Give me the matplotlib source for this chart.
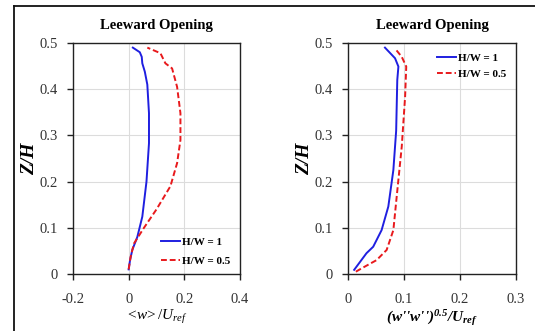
import matplotlib
matplotlib.use("Agg")
import matplotlib.pyplot as plt
from matplotlib.lines import Line2D

plt.rcParams['font.family'] = ['Liberation Serif', 'DejaVu Serif']
plt.rcParams['mathtext.fontset'] = 'custom'
plt.rcParams['mathtext.rm'] = 'Liberation Serif'
plt.rcParams['mathtext.it'] = 'Liberation Serif:italic'
plt.rcParams['mathtext.bf'] = 'Liberation Serif:bold'
plt.rcParams['mathtext.bfit'] = 'Liberation Serif:bold:italic'

# Left panel: <w>/Uref
w1_x = [0.0, 0.005, 0.013, 0.031, 0.049, 0.064, 0.073, 0.073, 0.067, 0.058, 0.049, 0.047, 0.040, 0.015]
w1_z = [0.01, 0.03, 0.052, 0.08, 0.124, 0.20, 0.283, 0.348, 0.41, 0.438, 0.456, 0.47, 0.48, 0.49]
w05_x = [0.0, 0.007, 0.019, 0.055, 0.10, 0.15, 0.174, 0.186, 0.186, 0.174, 0.156, 0.132, 0.114, 0.067]
w05_z = [0.01, 0.037, 0.066, 0.10, 0.14, 0.19, 0.24, 0.29, 0.348, 0.405, 0.445, 0.456, 0.478, 0.49]

# Right panel: (w''w'')^0.5/Uref
r1_x = [0.011, 0.033, 0.045, 0.060, 0.072, 0.081, 0.086, 0.088, 0.090, 0.084, 0.066]
r1_z = [0.009, 0.045, 0.059, 0.095, 0.146, 0.225, 0.31, 0.42, 0.449, 0.467, 0.49]
r05_x = [0.014, 0.024, 0.051, 0.069, 0.081, 0.088, 0.096, 0.102, 0.104, 0.096, 0.086]
r05_z = [0.005, 0.012, 0.03, 0.052, 0.095, 0.18, 0.276, 0.384, 0.449, 0.47, 0.485]

labels = ['H/W = 1', 'H/W = 0.5']
title = 'Leeward Opening'

fig = plt.figure(figsize=(5.35, 3.31), dpi=100)
axL = fig.add_axes([73/535, 57/331, 167/535, 231/331])
axR = fig.add_axes([348/535, 57/331, 168/535, 231/331])

blue = '#1f1fe0'
red = '#e8191c'

for ax in (axL, axR):
    ax.set_ylim(0, 0.5)
    ax.set_yticks([0, 0.1, 0.2, 0.3, 0.4, 0.5])
    ax.set_yticklabels(['0', '0.1', '0.2', '0.3', '0.4', '0.5'])
    ax.grid(True, color='#dcdcdc', linewidth=0.8)
    ax.set_axisbelow(True)
    ax.tick_params(direction='out', length=4, width=1, labelsize=10.5, colors='#222222', labelcolor='#333333')
    ax.tick_params(axis='x', pad=10)
    ax.tick_params(axis='y', pad=7)
    for s in ax.spines.values():
        s.set_linewidth(1.0)
        s.set_color('#222222')
    ax.set_ylabel('Z/H', fontsize=14, fontweight='bold', style='italic', labelpad=1)
    ax.set_title(title, fontsize=10.5, fontweight='bold', pad=10)

axL.plot(w1_x, w1_z, color=blue, lw=1.4, label=labels[0])
axL.plot(w05_x, w05_z, color=red, lw=1.4, ls=(0, (3, 1.5)), label=labels[1])
axL.set_xlim(-0.2, 0.4)
axL.set_xticks([-0.2, 0, 0.2, 0.4])
axL.set_xticklabels(['-0.2', '0', '0.2', '0.4'])
axL.set_xlabel(r'$<\!w\!>/U_{ref}$', fontsize=11, labelpad=1)
axL.legend(loc='lower right', frameon=False, prop={'weight': 'bold', 'size': 8},
           handlelength=1.7, handletextpad=0.2, labelspacing=0.85, bbox_to_anchor=(1.0, -0.01))

axR.plot(r1_x, r1_z, color=blue, lw=1.4, label=labels[0])
axR.plot(r05_x, r05_z, color=red, lw=1.4, ls=(0, (3, 1.5)), label=labels[1])
axR.set_xlim(0, 0.3)
axR.set_xticks([0, 0.1, 0.2, 0.3])
axR.set_xticklabels(['0', '0.1', '0.2', '0.3'])
axR.set_xlabel("(w''w'')" + r"$^{\mathbfit{0.5}}$" + "/" + r"$\mathbfit{U}_{\mathbfit{ref}}$",
               fontsize=11, fontweight='bold', style='italic', labelpad=1)
axR.legend(loc='upper right', frameon=False, prop={'weight': 'bold', 'size': 8},
           handlelength=1.7, handletextpad=0.2, labelspacing=0.6, bbox_to_anchor=(1.0, 1.0))

# outer frame lines (top and left)
fig.add_artist(Line2D([14/535, 1.0], [1 - 6/331, 1 - 6/331], color='#111111', lw=1.3, transform=fig.transFigure))
fig.add_artist(Line2D([14/535, 14/535], [0, 1 - 6/331], color='#111111', lw=1.3, transform=fig.transFigure))

fig.savefig('out.png', dpi=100)
